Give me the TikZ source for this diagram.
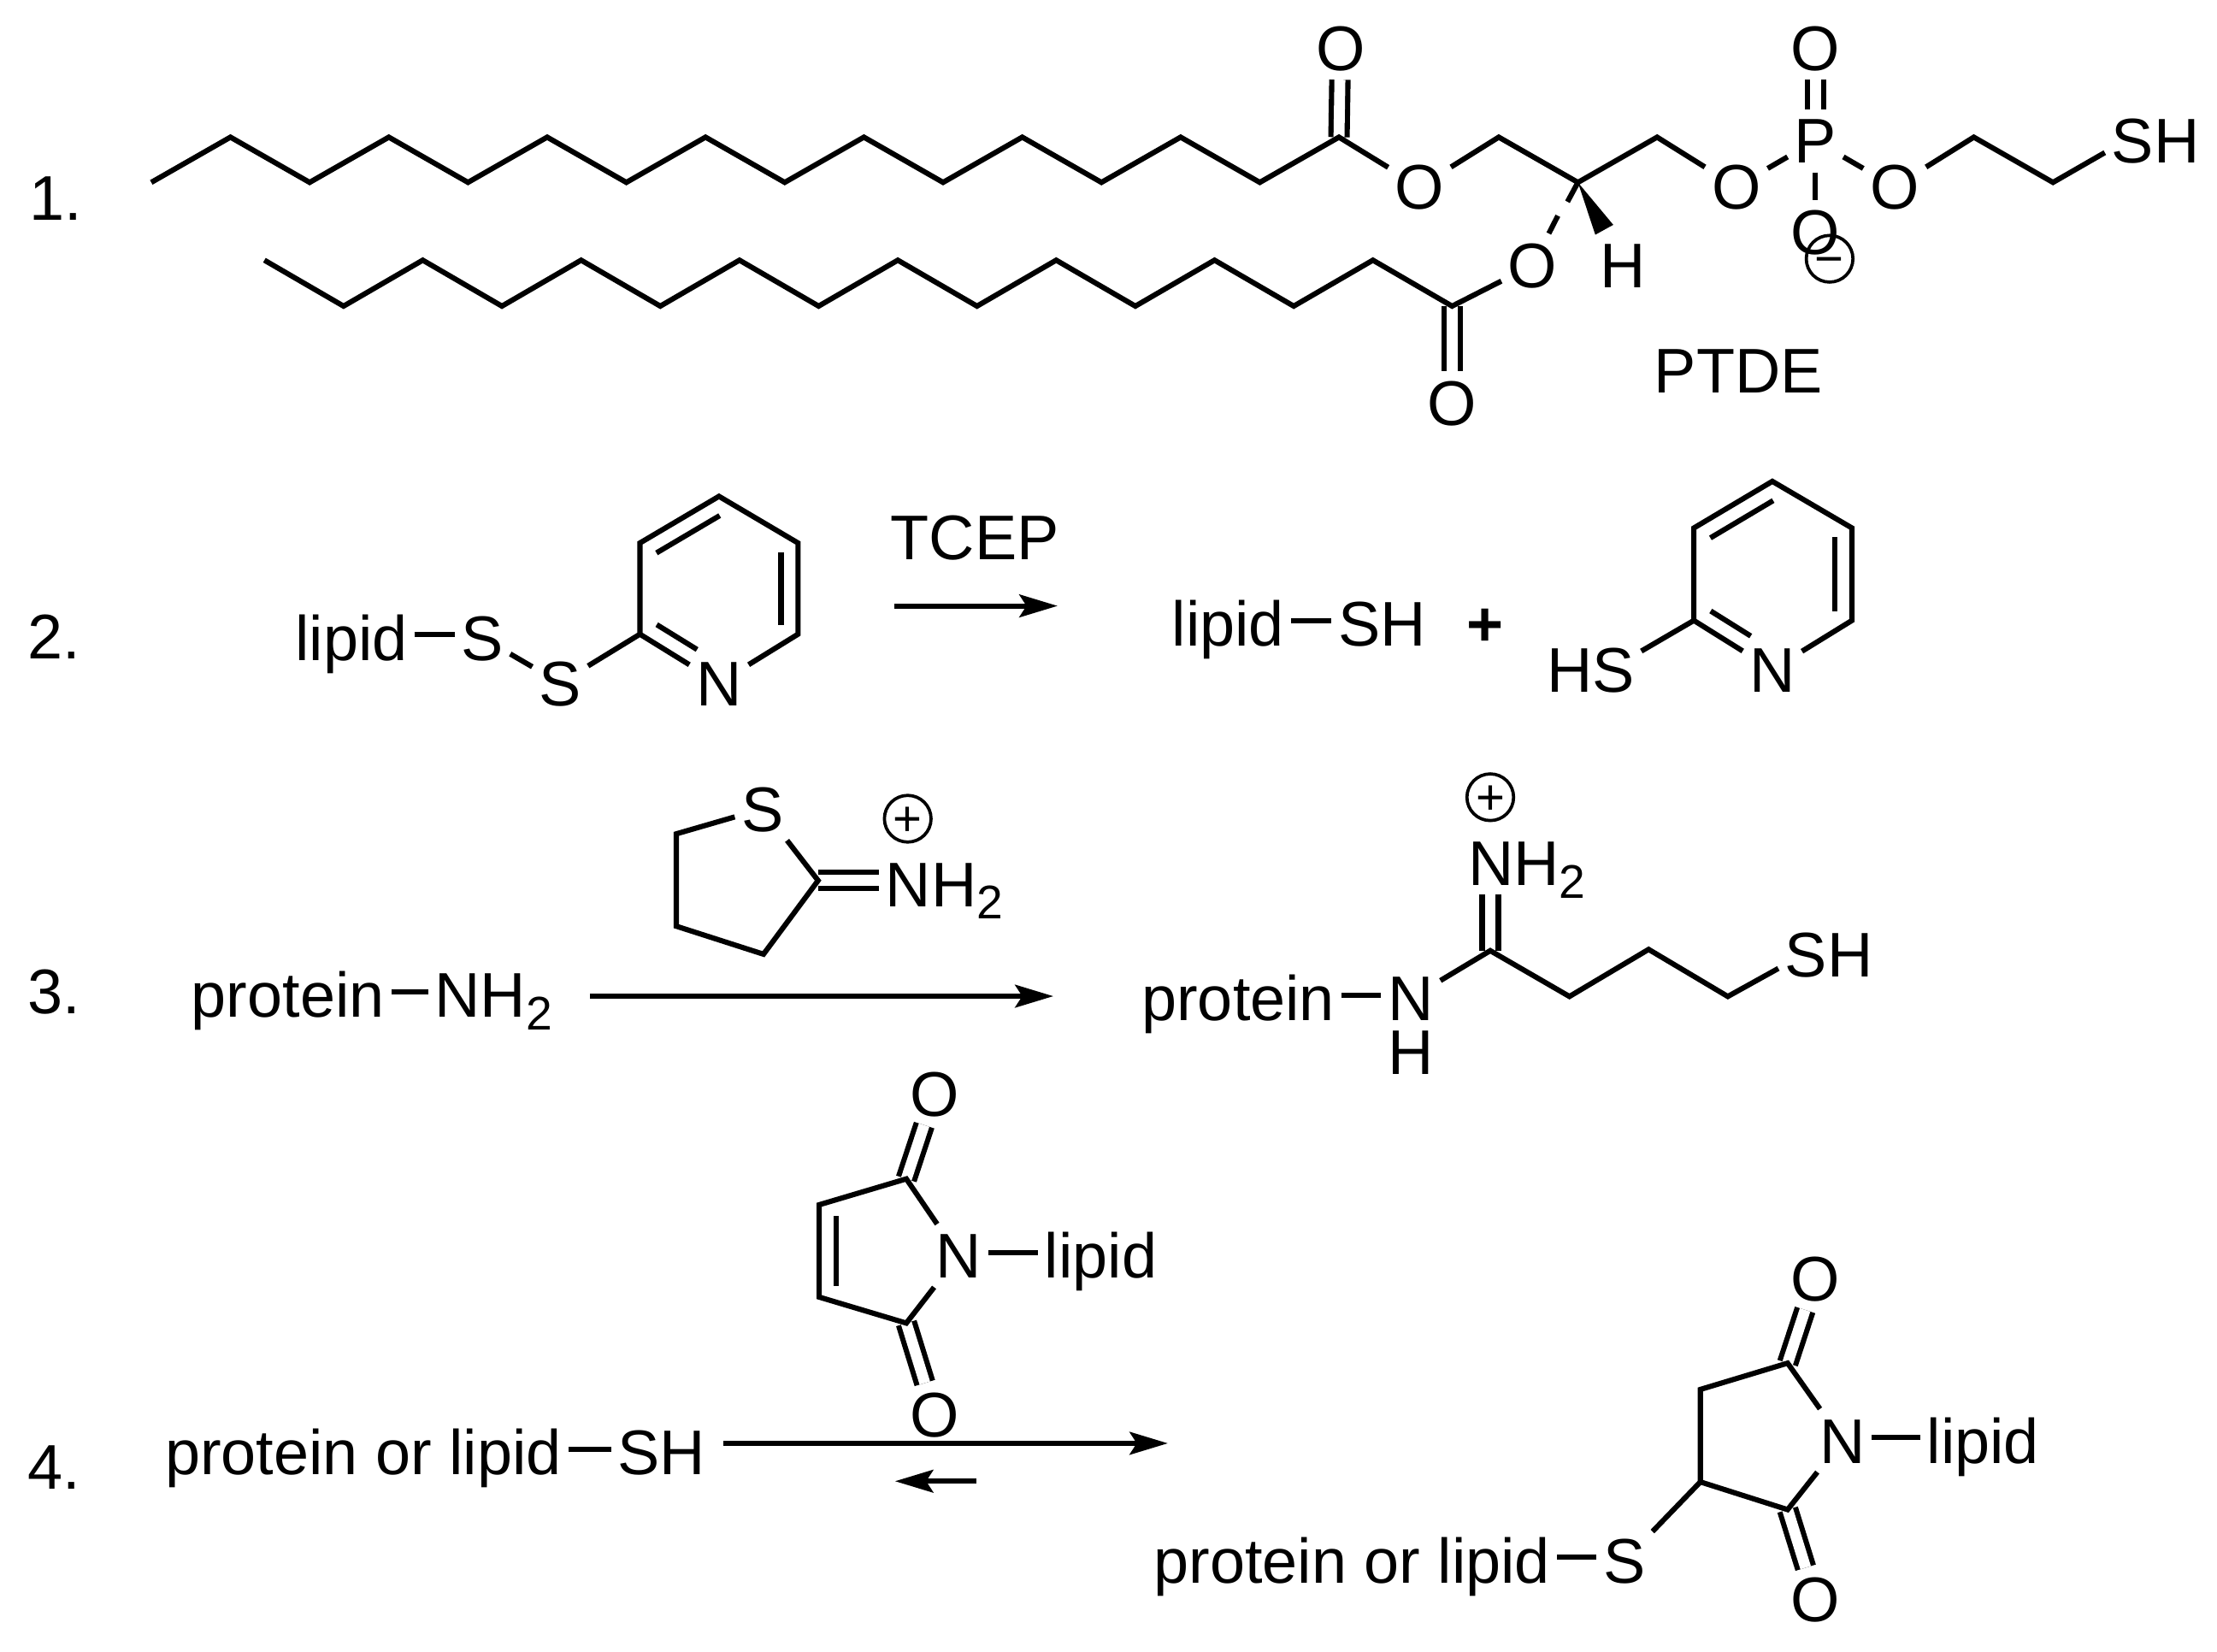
\documentclass[tikz,border=0pt]{standalone}
\usepackage{fontspec}
\setmainfont{Liberation Sans}
\usepackage{tikz}
\usetikzlibrary{arrows.meta, calc, positioning}

\newcommand{\subtwo}{\raisebox{-1.8mm}{\fontsize{19pt}{19pt}\selectfont 2}}
\newcommand{\innerbond}[4]{\draw[bond] ($(#1)!#3!(#2)!2.4mm!-90:(#2)$) -- ($(#1)!#4!(#2)!2.4mm!-90:(#2)$);}

\begin{document}
\begin{tikzpicture}[
    x=0.2mm, y=-0.2mm,
    atom/.style={rectangle, inner xsep=0.9mm, inner ysep=1.2mm, text height=6.4mm, text depth=0pt, font=\fontsize{25.4pt}{30pt}\selectfont},
    bond/.style={line width=0.74mm},
    dbl/.style={line width=0.74mm, double, double distance=1.55mm},
    link/.style={bond, transform canvas={yshift=0.45mm}},
    arrow/.style={->, >={Stealth[length=5.4mm, width=3.2mm, inset=1mm]}, line width=0.74mm},
    charge/.style={circle, draw, line width=0.45mm, inner sep=0pt, minimum size=6.6mm, text height=14pt, text depth=0pt, font=\fontsize{20pt}{20pt}\selectfont}
]
\useasboundingbox (0,0) rectangle (1568,1167.7);

% step labels
\node[atom, anchor=west] (one) at (16,140) {1.};
\node[atom, anchor=west] (two) at (15,450) {2.};
\node[atom, anchor=west] (three) at (15,701) {3.};
\node[atom, anchor=west] (four) at (15,1037) {4.};

% 1. PTDE
\foreach \i in {0,...,15} \coordinate (tailA\i) at ({107+56*\i},{isodd(\i)?97:129});
\foreach \i in {0,...,15} \coordinate (tailB\i) at ({187+56*\i},{isodd(\i)?216.5:184});
\coordinate (glyA) at (1060,97);
\coordinate (glyB) at (1116,129);
\coordinate (glyC) at (1172,97);
\coordinate (ethA) at (1396,97);
\coordinate (ethB) at (1452,129);
\coordinate (cutA) at (1108.6,142.7);
\coordinate (cutB) at (1101.8,152.6);
\coordinate (wedgeA) at (1128.3,166);
\coordinate (wedgeB) at (1141,159);

\node[atom] (oxoA) at (948,34) {O};
\node[atom] (estA) at (1004,132) {O};
\node[atom] (oxoB) at (1027,285) {O};
\node[atom] (estB) at (1084,187.5) {O};
\node[atom] (hchi) at (1148,187.5) {H};
\node[atom] (estC) at (1228,132) {O};
\node[atom] (phos) at (1284,99.5) {P};
\node[atom] (oxoP) at (1284,34) {O};
\node[atom] (oneg) at (1284,164) {O};
\node[atom] (estD) at (1340,132) {O};
\node[atom] (thiolA) at (1524.5,99) {SH};
\node[charge] (minus) at (1294,183) {−};
\node[atom] (ptde) at (1229.5,262) {PTDE};

\draw[dbl] (tailA15) -- (oxoA);
\draw[dbl] (tailB15) -- (oxoB);
\draw[dbl] (phos) -- (oxoP);
\draw[bond] (tailA0) \foreach \i in {1,...,15} { -- (tailA\i) } -- (estA);
\draw[bond] (tailB0) \foreach \i in {1,...,15} { -- (tailB\i) } -- (estB);
\draw[bond] (estA) -- (glyA) -- (glyB) -- (glyC) -- (estC);
\draw[bond] (glyB) -- (cutA);
\draw[bond] (cutB) -- (estB);
\fill (glyB) -- (wedgeA) -- (wedgeB) -- cycle;
\draw[bond] (estC) -- (phos);
\draw[bond] (phos) -- (estD);
\draw[bond] (phos) -- (oneg);
\draw[bond] (estD) -- (ethA) -- (ethB) -- (thiolA.194);

% 2. disulfide cleavage
\node[atom, anchor=west] (lipidA) at (204,451) {lipid};
\node[atom, right=5.66mm of lipidA] (sulfA) {S};
\node[atom] (sulfB) at (396.2,483) {S};
\node[atom] (pyrA) at (508.5,483) {N};
\coordinate (pyrB) at (452.6,448.5);
\coordinate (pyrC) at (452.6,384);
\coordinate (pyrD) at (508.5,351);
\coordinate (pyrE) at (564.4,384);
\coordinate (pyrF) at (564.4,448.5);
\draw[link] (lipidA) -- (sulfA);
\draw[bond] (sulfA) -- (sulfB);
\draw[bond] (sulfB) -- (pyrB) -- (pyrC) -- (pyrD) -- (pyrE) -- (pyrF) -- (pyrA) -- (pyrB);
\innerbond{pyrC}{pyrD}{0.1}{0.9}
\innerbond{pyrE}{pyrF}{0.1}{0.9}
\innerbond{pyrA.center}{pyrB}{0.39}{0.9}

\node[atom] (tcep) at (689.5,380) {TCEP};
\coordinate (arrAs) at (632.6,428.5);
\coordinate (arrAe) at (748,428.5);
\draw[arrow] (arrAs) -- (arrAe);

\node[atom, anchor=west] (lipidB) at (824,441) {lipid};
\node[atom, right=5.7mm of lipidB] (thiolB) {SH};
\draw[link] (lipidB) -- (thiolB);
\node[atom] (plus) at (1050.5,441) {\textbf{+}};

\node[atom] (thiolC) at (1125,473.5) {HS};
\node[atom] (pyrG) at (1253.5,473.5) {N};
\coordinate (pyrH) at (1198,438.8);
\coordinate (pyrI) at (1198,373.4);
\coordinate (pyrJ) at (1253.5,340.4);
\coordinate (pyrK) at (1309.8,373.4);
\coordinate (pyrL) at (1309.8,438.8);
\draw[bond] (thiolC.20) -- (pyrH) -- (pyrI) -- (pyrJ) -- (pyrK) -- (pyrL) -- (pyrG) -- (pyrH);
\innerbond{pyrI}{pyrJ}{0.1}{0.9}
\innerbond{pyrK}{pyrL}{0.1}{0.9}
\innerbond{pyrG.center}{pyrH}{0.39}{0.9}

% 3. amine thiolation
\node[atom] (sulfC) at (539.4,572) {S};
\coordinate (ringA) at (478.3,589.7);
\coordinate (ringB) at (478.3,655);
\coordinate (ringC) at (540,674.8);
\coordinate (ringD) at (578.6,622.7);
\node[atom, anchor=west] (iminA) at (621.5,625) {NH\subtwo};
\node[charge] (plusA) at (642,579) {+};
\draw[dbl] (ringD) -- (ringD -| iminA.west);
\draw[bond] (sulfC) -- (ringA) -- (ringB) -- (ringC) -- (ringD) -- (sulfC);

\node[atom, anchor=west] (protA) at (130.5,703.5) {protein};
\node[atom, right=5.2mm of protA] (amine) {NH\subtwo};
\draw[link] (protA) -- (amine);
\coordinate (arrBs) at (417.4,704.5);
\coordinate (arrBe) at (745,704.5);
\draw[arrow] (arrBs) -- (arrBe);

\node[atom] (nitA) at (997.8,706) {N};
\node[atom, left=5.6mm of nitA] (protB) {protein};
\node[atom] (hydA) at (997.8,743.6) {H};
\coordinate (amiA) at (1054,672.3);
\coordinate (amiB) at (1110,704.7);
\coordinate (amiC) at (1166,671.4);
\coordinate (amiD) at (1222,704.7);
\node[atom, anchor=west] (iminB) at (1033.5,610) {NH\subtwo};
\node[charge] (plusB) at (1054,563.8) {+};
\node[atom] (thiolD) at (1293.6,674.6) {SH};
\draw[link] (protB) -- (nitA);
\draw[dbl] (amiA) -- (amiA |- iminB.south);
\draw[bond] (nitA) -- (amiA) -- (amiB) -- (amiC) -- (amiD) -- (thiolD.196);

% 4. maleimide addition
\node[atom] (oxoC) at (661,773.3) {O};
\node[atom] (oxoD) at (661,1000.4) {O};
\node[atom] (nitB) at (678,888) {N};
\node[atom, right=7mm of nitB] (lipidC) {lipid};
\coordinate (malA) at (641,833.7);
\coordinate (malB) at (579.4,852);
\coordinate (malC) at (579.4,917.3);
\coordinate (malD) at (641,935.7);
\draw[dbl] (malA) -- (oxoC);
\draw[dbl] (malD) -- (oxoD);
\draw[bond] (nitB) -- (malA) -- (malB) -- (malC) -- (malD) -- (nitB);
\innerbond{malC}{malB}{0.12}{0.88}
\draw[link] (nitB) -- (lipidC);

\node[atom, anchor=west] (protC) at (112,1027) {protein or lipid};
\node[atom, right=6mm of protC] (thiolE) {SH};
\draw[link] (protC) -- (thiolE);
\coordinate (arrCs) at (511.6,1020.7);
\coordinate (arrCe) at (826,1020.7);
\coordinate (arrDs) at (690.5,1047.5);
\coordinate (arrDe) at (633,1047.5);
\draw[arrow] (arrCs) -- (arrCe);
\draw[arrow] (arrDs) -- (arrDe);

\node[atom] (oxoE) at (1284,904) {O};
\node[atom] (oxoF) at (1284,1131) {O};
\node[atom] (nitC) at (1303,1018.7) {N};
\node[atom, right=6.8mm of nitC] (lipidD) {lipid};
\node[atom] (sulfD) at (1149,1103.5) {S};
\node[atom, left=5.6mm of sulfD] (protD) {protein or lipid};
\coordinate (sucA) at (1264.3,964);
\coordinate (sucB) at (1202.6,982.6);
\coordinate (sucC) at (1202.6,1048);
\coordinate (sucD) at (1264.3,1067.6);
\draw[dbl] (sucA) -- (oxoE);
\draw[dbl] (sucD) -- (oxoF);
\draw[bond] (nitC) -- (sucA) -- (sucB) -- (sucC) -- (sucD) -- (nitC);
\draw[bond] (sucC) -- (sulfD);
\draw[link] (nitC) -- (lipidD);
\draw[link] (protD) -- (sulfD);

\end{tikzpicture}
\end{document}
